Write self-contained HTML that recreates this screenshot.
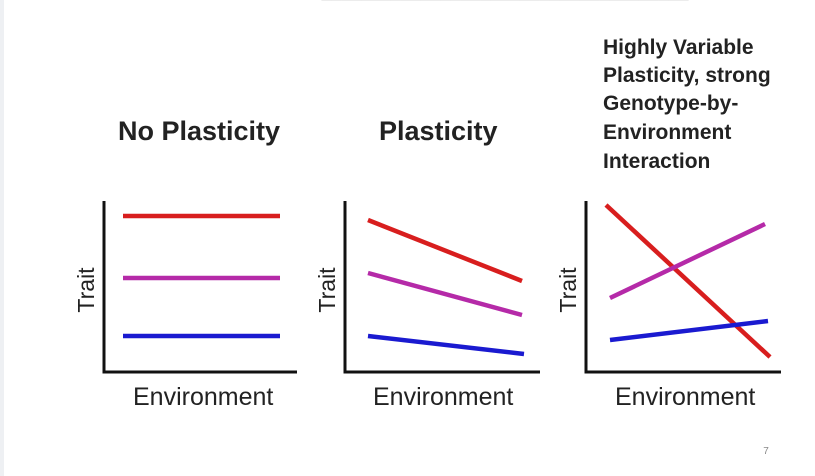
<!DOCTYPE html>
<html><head><style>
body{margin:0;width:815px;height:476px;background:#fff;position:relative;overflow:hidden;font-family:"Liberation Sans",Arial,sans-serif}
</style></head><body>
<div style="position:absolute;left:0;top:0;width:4px;height:476px;background:#eef0f3"></div>
<svg width="815" height="476" style="position:absolute;left:0;top:0" font-family="Liberation Sans, Arial, sans-serif">
<text x="505" y="4" font-size="14" fill="#ccc" text-anchor="middle" font-family="Liberation Serif">─────────────────────────────────────</text>
<g font-weight="bold" fill="#222" font-size="27">
<text x="118" y="140">No Plasticity</text>
<text x="379" y="140">Plasticity</text>
</g>
<g font-weight="bold" fill="#222" font-size="21">
<text x="603" y="54">Highly Variable</text>
<text x="603" y="82">Plasticity, strong</text>
<text x="603" y="110">Genotype-by-</text>
<text x="603" y="139">Environment</text>
<text x="603" y="168">Interaction</text>
</g>
<g stroke="#111" stroke-width="3" fill="none">
<path d="M104 201V372H297"/>
<path d="M345 201V372H540"/>
<path d="M586 201V372H781"/>
</g>
<g stroke-width="4.5" stroke-linecap="butt">
<line x1="123" y1="216" x2="280" y2="216" stroke="#d81e1e"/>
<line x1="123" y1="278" x2="280" y2="278" stroke="#b52aa8"/>
<line x1="123" y1="336" x2="280" y2="336" stroke="#1a1ad0"/>
<line x1="368" y1="220" x2="522" y2="281" stroke="#d81e1e"/>
<line x1="368" y1="273" x2="522" y2="315" stroke="#b52aa8"/>
<line x1="368" y1="336" x2="524" y2="354" stroke="#1a1ad0"/>
<line x1="606" y1="205" x2="770" y2="357" stroke="#d81e1e"/>
<line x1="610" y1="298" x2="765" y2="224" stroke="#b52aa8"/>
<line x1="610" y1="340" x2="768" y2="321" stroke="#1a1ad0"/>
</g>
<g font-size="25" fill="#222">
<text x="133" y="405">Environment</text>
<text x="373" y="405">Environment</text>
<text x="615" y="405">Environment</text>
</g>
<g font-size="23" fill="#222" text-anchor="middle">
<text transform="translate(94,290) rotate(-90)">Trait</text>
<text transform="translate(335,290) rotate(-90)">Trait</text>
<text transform="translate(576,290) rotate(-90)">Trait</text>
</g>
<text x="766" y="454" font-size="10" fill="#888" text-anchor="middle">7</text>
</svg>
</body></html>
